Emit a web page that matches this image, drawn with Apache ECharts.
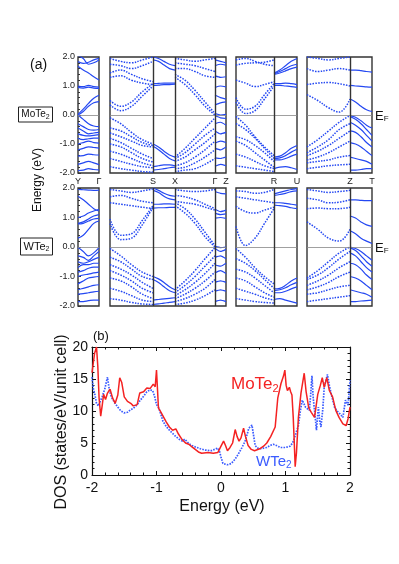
<!DOCTYPE html>
<html>
<head>
<meta charset="utf-8">
<script src="https://cdn.jsdelivr.net/npm/echarts@6/dist/echarts.min.js"></script>
<style>
    html, body { margin: 0; padding: 0; background: #fff; }
    #chart { width: 399px; height: 564px; }
</style>
</head>
<body>
<div id="chart"></div>
<script>
    // k-path: segment lengths (arbitrary k units), which panel, solid or dotted
    const segLen = [21, 43, 22, 40, 11, 38, 23, 43, 22];
    const segPanel = [0, 1, 1, 1, 1, 2, 2, 3, 3];
    const segSolid = [true, false, true, false, true, false, true, false, true];
    const panelLabels = [['Y', 'Γ'], ['', 'S', 'X', 'Γ', 'Z'], ['', 'R', 'U'], ['', 'Z', 'T']];

    // MoTe2 bands, energies (eV) at equally spaced k-points of each segment
    const moYG = [
        [1.68, 1.55, 1.45, 1.32, 1.21], [1.84, 1.78, 1.82, 1.9, 1.95], [2.05, 1.95, 1.75, 1.8, 1.9],
        [1.0, 0.98, 1.02, 0.98, 0.96], [0.95, 0.93, 0.96, 0.93, 0.92],
        [0.02, 0.2, 0.4, 0.58, 0.68], [0.0, 0.12, 0.3, 0.42, 0.46],
        [0.0, -0.15, -0.3, -0.38, -0.4], [-0.3, -0.4, -0.5, -0.52, -0.5], [-0.45, -0.55, -0.65, -0.62, -0.6],
        [-0.65, -0.7, -0.72, -0.7, -0.68], [-0.8, -0.85, -0.82, -0.8, -0.8], [-1.0, -0.95, -0.9, -0.95, -0.97],
        [-1.2, -1.15, -1.1, -1.12, -1.14], [-1.42, -1.4, -1.35, -1.37, -1.38], [-1.7, -1.65, -1.6, -1.65, -1.71],
        [-1.92, -1.9, -1.85, -1.88, -1.89]
    ];
    const moGS = [
        [0.35, 0.15, 0.3, 0.65, 1.0], [0.5, 0.3, 0.45, 0.8, 1.08], [1.3, 1.35, 1.2, 1.1, 1.05],
        [1.45, 1.55, 1.4, 1.25, 1.15], [1.75, 1.7, 1.6, 1.7, 1.85], [1.95, 1.85, 1.8, 1.9, 2.0],
        [-0.1, -0.3, -0.6, -0.85, -1.0], [-0.45, -0.55, -0.75, -0.95, -1.05], [-0.62, -0.75, -0.9, -1.05, -1.1],
        [-0.8, -0.95, -1.15, -1.35, -1.5], [-1.0, -1.1, -1.3, -1.5, -1.62], [-1.25, -1.35, -1.5, -1.65, -1.75],
        [-1.5, -1.6, -1.7, -1.78, -1.82], [-1.78, -1.85, -1.9, -1.95, -1.97]
    ];
    const moSX = [
        [2.0, 1.95, 1.85, 1.75, 1.7], [1.9, 1.85, 1.72, 1.6, 1.55], [1.08, 1.09, 1.1, 1.1, 1.1],
        [1.02, 1.03, 1.05, 1.05, 1.06], [-1.0, -1.1, -1.25, -1.38, -1.45], [-1.08, -1.2, -1.35, -1.5, -1.58],
        [-1.78, -1.75, -1.72, -1.72, -1.75], [-1.9, -1.88, -1.85, -1.82, -1.8]
    ];
    const moXG = [
        [1.95, 1.9, 1.85, 1.9, 1.95], [1.8, 1.75, 1.7, 1.6, 1.5], [1.6, 1.6, 1.5, 1.35, 1.3],
        [1.4, 1.2, 0.85, 0.45, 0.05], [1.3, 1.05, 0.7, 0.3, 0.0],
        [-1.45, -1.15, -0.8, -0.45, -0.1], [-1.5, -1.3, -1.0, -0.7, -0.45], [-1.6, -1.45, -1.2, -0.95, -0.65],
        [-1.75, -1.65, -1.45, -1.2, -0.9], [-1.85, -1.8, -1.65, -1.45, -1.2], [-1.95, -1.9, -1.85, -1.7, -1.5]
    ];
    const moGZ = [
        [1.9, 1.85, 1.8], [1.7, 1.75, 1.72], [1.35, 1.3, 1.32], [0.95, 1.0, 0.97], [0.68, 0.6, 0.55],
        [0.35, 0.42, 0.45], [0.05, 0.0, 0.02], [-0.02, -0.1, -0.12], [-0.3, -0.25, -0.35], [-0.55, -0.65, -0.6],
        [-0.97, -0.9, -0.95], [-1.15, -1.2, -1.1], [-1.48, -1.5, -1.45], [-1.77, -1.7, -1.75]
    ];
    const moZR = [
        [1.9, 1.95, 1.85, 1.75, 1.7], [1.72, 1.78, 1.8, 1.82, 1.9], [1.2, 1.1, 0.98, 1.05, 1.15],
        [0.45, 0.05, 0.15, 0.55, 1.0], [0.6, 0.2, 0.3, 0.7, 1.08],
        [-0.05, -0.35, -0.75, -1.1, -1.4], [-0.3, -0.5, -0.8, -1.15, -1.5], [-0.75, -0.85, -1.05, -1.3, -1.6],
        [-0.9, -1.05, -1.3, -1.55, -1.8], [-1.35, -1.45, -1.6, -1.75, -1.85], [-1.75, -1.8, -1.85, -1.9, -1.95]
    ];
    const moRU = [
        [1.45, 1.55, 1.7, 1.85, 1.95], [1.42, 1.5, 1.6, 1.7, 1.75], [1.4, 1.45, 1.52, 1.6, 1.65],
        [1.08, 1.08, 1.1, 1.08, 1.05], [1.02, 1.02, 1.0, 0.98, 0.95],
        [-1.45, -1.42, -1.3, -1.15, -1.05], [-1.5, -1.48, -1.4, -1.28, -1.18], [-1.55, -1.55, -1.5, -1.42, -1.35],
        [-1.85, -1.8, -1.78, -1.82, -1.88]
    ];
    const moUZ = [
        [2.0, 1.95, 1.9, 1.95, 2.0], [1.6, 1.5, 1.55, 1.6, 1.55], [1.05, 1.1, 1.12, 1.08, 1.0],
        [0.7, 0.5, 0.25, 0.1, 0.55],
        [-1.1, -0.85, -0.55, -0.25, -0.02], [-1.3, -1.1, -0.85, -0.5, -0.3], [-1.4, -1.25, -1.05, -0.8, -0.55],
        [-1.55, -1.45, -1.3, -1.1, -0.9], [-1.65, -1.6, -1.55, -1.45, -1.4], [-1.85, -1.8, -1.75, -1.72, -1.7]
    ];
    const moZT = [
        [1.55, 1.55, 1.53, 1.5, 1.48], [1.02, 1.0, 0.99, 0.97, 0.96], [0.55, 0.45, 0.3, 0.18, 0.12],
        [-0.02, -0.08, -0.2, -0.35, -0.45], [-0.05, -0.15, -0.3, -0.5, -0.7], [-0.25, -0.35, -0.5, -0.7, -0.9],
        [-0.55, -0.6, -0.75, -0.95, -1.1], [-0.95, -1.0, -1.1, -1.25, -1.4], [-1.45, -1.5, -1.55, -1.6, -1.7],
        [-1.9, -1.9, -1.88, -1.85, -1.85]
    ];

    // WTe2 bands
    const wYG = [
        [1.95, 1.94, 1.93, 1.92, 1.93], [1.72, 1.6, 1.45, 1.3, 1.22], [1.0, 1.05, 1.15, 1.22, 1.28],
        [0.8, 0.85, 0.95, 1.05, 1.1], [0.78, 0.8, 0.88, 0.95, 0.97], [0.3, 0.4, 0.6, 0.8, 0.88],
        [-0.02, -0.15, -0.3, -0.2, -0.02], [-0.3, -0.35, -0.45, -0.3, -0.15], [-0.5, -0.55, -0.5, -0.42, -0.35],
        [-0.7, -0.6, -0.6, -0.55, -0.55], [-0.85, -0.8, -0.72, -0.68, -0.68], [-1.0, -0.95, -0.92, -0.88, -0.85],
        [-1.25, -1.15, -1.05, -1.02, -1.0], [-1.45, -1.4, -1.35, -1.3, -1.28], [-1.6, -1.58, -1.55, -1.52, -1.5],
        [-1.85, -1.85, -1.82, -1.8, -1.8]
    ];
    const wGS = [
        [1.95, 1.9, 1.85, 1.9, 1.97], [1.7, 1.75, 1.65, 1.55, 1.5], [1.5, 1.45, 1.4, 1.35, 1.3],
        [0.8, 0.25, 0.3, 0.75, 1.35], [0.95, 0.4, 0.45, 0.9, 1.4],
        [-0.05, -0.3, -0.6, -0.85, -1.0], [-0.35, -0.5, -0.75, -1.0, -1.1], [-0.6, -0.75, -0.95, -1.2, -1.4],
        [-0.8, -0.95, -1.15, -1.4, -1.55], [-1.05, -1.15, -1.35, -1.6, -1.75], [-1.4, -1.5, -1.65, -1.8, -1.85],
        [-1.75, -1.8, -1.88, -1.93, -1.95]
    ];
    const wSX = [
        [2.0, 1.92, 1.82, 1.75, 1.72], [1.92, 1.85, 1.72, 1.63, 1.6], [1.45, 1.45, 1.46, 1.46, 1.45],
        [1.32, 1.33, 1.33, 1.34, 1.34], [-1.0, -1.08, -1.2, -1.35, -1.45], [-1.1, -1.2, -1.35, -1.48, -1.55],
        [-1.8, -1.78, -1.76, -1.74, -1.72], [-1.95, -1.93, -1.9, -1.88, -1.85]
    ];
    const wXG = [
        [1.95, 1.9, 1.88, 1.9, 1.95], [1.75, 1.7, 1.6, 1.45, 1.3], [1.55, 1.5, 1.45, 1.35, 1.25],
        [1.5, 1.3, 0.95, 0.5, 0.05], [1.4, 1.15, 0.8, 0.35, 0.0],
        [-1.45, -1.15, -0.8, -0.4, -0.02], [-1.55, -1.3, -1.0, -0.65, -0.3], [-1.65, -1.45, -1.2, -0.9, -0.55],
        [-1.75, -1.6, -1.4, -1.15, -0.85], [-1.85, -1.75, -1.6, -1.4, -1.1], [-1.95, -1.9, -1.8, -1.65, -1.45]
    ];
    const wGZ = [
        [1.88, 1.82, 1.8], [1.28, 1.2, 1.25], [1.15, 1.1, 1.12], [0.98, 1.0, 0.97], [0.02, -0.02, 0.0],
        [-0.05, -0.15, -0.08], [-0.35, -0.3, -0.4], [-0.6, -0.65, -0.55], [-0.88, -0.8, -0.9],
        [-1.2, -1.15, -1.2], [-1.5, -1.45, -1.5], [-1.85, -1.8, -1.85]
    ];
    const wZR = [
        [1.9, 1.88, 1.82, 1.85, 1.95], [1.7, 1.65, 1.6, 1.55, 1.5], [1.38, 1.2, 1.15, 1.25, 1.35],
        [0.7, 0.05, 0.3, 0.8, 1.3],
        [-0.05, -0.35, -0.7, -1.0, -1.25], [-0.4, -0.55, -0.8, -1.1, -1.4], [-0.75, -0.85, -1.05, -1.3, -1.55],
        [-1.05, -1.15, -1.35, -1.55, -1.7], [-1.4, -1.5, -1.6, -1.72, -1.8], [-1.75, -1.8, -1.85, -1.88, -1.9]
    ];
    const wRU = [
        [1.8, 1.85, 1.9, 1.95, 1.98], [1.75, 1.78, 1.82, 1.88, 1.9], [1.5, 1.5, 1.48, 1.45, 1.42],
        [1.42, 1.4, 1.38, 1.33, 1.3], [-1.42, -1.4, -1.3, -1.15, -1.05], [-1.48, -1.45, -1.38, -1.28, -1.2],
        [-1.55, -1.55, -1.5, -1.42, -1.35], [-1.78, -1.75, -1.8, -1.85, -1.9]
    ];
    const wUZ = [
        [1.95, 1.9, 1.85, 1.88, 1.92], [1.65, 1.6, 1.5, 1.52, 1.6], [1.3, 1.32, 1.3, 1.3, 1.35],
        [0.85, 0.6, 0.3, 0.2, 0.6],
        [-1.05, -0.8, -0.5, -0.2, 0.0], [-1.1, -0.95, -0.7, -0.4, -0.15], [-1.3, -1.15, -0.95, -0.7, -0.5],
        [-1.45, -1.35, -1.2, -1.0, -0.85], [-1.6, -1.55, -1.45, -1.35, -1.3], [-1.85, -1.8, -1.75, -1.7, -1.65]
    ];
    const wZT = [
        [1.6, 1.6, 1.58, 1.57, 1.57], [1.05, 0.98, 0.85, 0.75, 0.7], [0.55, 0.45, 0.3, 0.2, 0.12],
        [0.0, -0.05, -0.15, -0.3, -0.45], [-0.03, -0.12, -0.3, -0.5, -0.65], [-0.2, -0.3, -0.5, -0.7, -0.85],
        [-0.55, -0.6, -0.75, -0.95, -1.1], [-1.0, -1.05, -1.15, -1.3, -1.45], [-1.45, -1.5, -1.55, -1.6, -1.7],
        [-1.85, -1.85, -1.83, -1.82, -1.8]
    ];

    // DOS (states/eV/unit cell)
    const moE = [-2.0, -1.98, -1.96, -1.93, -1.91, -1.89, -1.865, -1.84, -1.82, -1.79, -1.76, -1.72, -1.68, -1.64, -1.6,
        -1.57, -1.54, -1.5, -1.45, -1.4, -1.36, -1.3, -1.26, -1.2, -1.15, -1.1, -1.05, -1.02, -1.0, -0.97, -0.93,
        -0.9, -0.85, -0.8, -0.75, -0.7, -0.66, -0.6, -0.55, -0.5, -0.45, -0.4, -0.35, -0.3, -0.2, -0.12, -0.05,
        0.0, 0.04, 0.07, 0.1, 0.14, 0.18, 0.22, 0.25, 0.28, 0.31, 0.35, 0.38, 0.42, 0.47, 0.52, 0.6, 0.66, 0.71,
        0.77, 0.84, 0.88, 0.93, 0.97, 0.99, 1.01, 1.03, 1.06, 1.08, 1.1, 1.12, 1.14, 1.15, 1.17, 1.2, 1.24, 1.29,
        1.32, 1.36, 1.4, 1.45, 1.5, 1.54, 1.57, 1.6, 1.64, 1.68, 1.73, 1.78, 1.83, 1.89, 1.94, 1.97, 2.0];
    const moDos = [16.0, 17.5, 19.0, 20.0, 17.0, 12.0, 9.2, 11.0, 12.6, 11.8, 12.8, 13.4, 12.0, 11.2, 12.5,
        15.2, 14.5, 12.2, 11.5, 11.2, 10.8, 11.0, 12.8, 13.0, 13.6, 13.5, 14.2, 13.8, 16.4, 10.5, 9.8,
        9.5, 8.3, 7.5, 7.0, 7.2, 6.4, 5.5, 5.0, 4.8, 4.4, 4.0, 3.6, 3.4, 3.5, 3.4, 3.5,
        4.5, 5.3, 4.6, 3.8, 4.3, 5.0, 7.1, 6.0, 5.3, 5.8, 7.3, 6.0, 4.6, 4.0, 3.8, 4.1, 4.5, 5.0,
        6.0, 7.5, 12.0, 14.3, 15.5, 16.4, 14.0, 13.2, 13.7, 13.0, 12.5, 9.0, 4.0, 1.3, 3.5, 9.0, 12.8, 15.9,
        13.0, 10.5, 9.8, 9.0, 12.6, 14.0, 15.2, 13.7, 15.2, 13.2, 12.2, 10.1, 9.0, 8.0, 7.7, 8.8, 10.6];
    const wE = [-2.0, -1.98, -1.96, -1.93, -1.9, -1.87, -1.84, -1.8, -1.76, -1.73, -1.7, -1.65, -1.6, -1.55, -1.5,
        -1.45, -1.4, -1.36, -1.3, -1.25, -1.2, -1.15, -1.1, -1.06, -1.03, -1.0, -0.97, -0.93, -0.9, -0.85, -0.8,
        -0.76, -0.7, -0.65, -0.6, -0.56, -0.5, -0.45, -0.4, -0.32, -0.25, -0.15, -0.1, -0.05, -0.02, 0.0, 0.03,
        0.06, 0.1, 0.16, 0.22, 0.27, 0.32, 0.37, 0.41, 0.43, 0.48, 0.5, 0.53, 0.57, 0.61, 0.66, 0.71, 0.76, 0.81,
        0.86, 0.92, 1.0, 1.07, 1.11, 1.14, 1.17, 1.2, 1.23, 1.26, 1.31, 1.37, 1.39, 1.41, 1.43, 1.45, 1.48, 1.51,
        1.53, 1.55, 1.58, 1.6, 1.65, 1.68, 1.71, 1.76, 1.8, 1.84, 1.89, 1.93, 1.97, 2.0];
    const wDos = [15.3, 13.5, 12.8, 11.2, 10.8, 10.7, 12.3, 13.5, 15.3, 13.2, 12.2, 11.3, 10.6, 10.0, 9.7,
        9.8, 10.2, 10.4, 11.0, 11.7, 12.3, 13.0, 13.3, 13.2, 12.3, 11.0, 10.6, 9.4, 8.4, 7.6, 7.0,
        6.6, 6.0, 5.6, 5.3, 5.6, 4.9, 4.6, 4.4, 4.1, 3.9, 3.8, 4.0, 4.2, 3.6, 2.8, 1.8,
        1.5, 1.6, 1.8, 2.5, 3.3, 4.2, 5.2, 6.5, 7.3, 7.8, 6.5, 4.6, 4.2, 4.1, 4.2, 4.3, 4.6, 4.8,
        4.6, 4.3, 4.3, 4.5, 5.0, 5.8, 6.8, 7.7, 10.0, 11.7, 10.6, 10.1, 12.5, 15.5, 12.0, 10.1, 7.0, 10.6,
        8.5, 7.5, 10.5, 13.7, 15.7, 14.0, 12.6, 10.6, 10.0, 9.6, 9.0, 11.7, 10.9, 14.8];

    const BAND = '#2448f2';
    const RED = '#f42222';
    const BLUE = '#3b5cff';
    const FONT = 'Liberation Sans';
    const panelBox = [{left: 78, width: 21}, {left: 110, width: 116}, {left: 236, width: 61}, {left: 307, width: 65}];
    const rows = [{top: 57, height: 116}, {top: 188, height: 118}];
    const materials = [
        [moYG, moGS, moSX, moXG, moGZ, moZR, moRU, moUZ, moZT],
        [wYG, wGS, wSX, wXG, wGZ, wZR, wRU, wUZ, wZT]
    ];

    // boundaries of each panel from the segment lengths
    const panelEdges = [[0], [0], [0], [0]];
    segLen.forEach((len, i) => {
        const e = panelEdges[segPanel[i]];
        e.push(e[e.length - 1] + len);
    });

    let grids = [], xAxes = [], yAxes = [], series = [];
    rows.forEach((row, r) => {
        panelBox.forEach((box, p) => {
            const gi = grids.length;
            const edges = panelEdges[p];
            grids.push({left: box.left, width: box.width, top: row.top, height: row.height,
                show: true, borderColor: '#333', borderWidth: 1.4, backgroundColor: 'transparent'});
            const labelVals = [], labelText = {};
            edges.forEach((v, k) => {
                if (panelLabels[p][k]) { labelVals.push(v); labelText[v] = panelLabels[p][k]; }
            });
            xAxes.push({type: 'value', gridIndex: gi, min: 0, max: edges[edges.length - 1],
                axisLine: {show: false, onZero: false}, axisTick: {show: false}, splitLine: {show: false},
                axisLabel: {show: r === 0, customValues: labelVals, formatter: v => labelText[v] || '',
                    fontSize: 9, margin: 4, color: '#222', fontFamily: FONT}});
            yAxes.push({type: 'value', gridIndex: gi, min: -2, max: 2, interval: 1,
                axisLine: {show: false, onZero: false}, splitLine: {show: false},
                axisTick: {show: p === 0, inside: true, length: 3, lineStyle: {color: '#333'}},
                minorTick: {show: p === 0, splitNumber: 5, length: 2, lineStyle: {color: '#333'}},
                axisLabel: {show: p === 0, formatter: v => v.toFixed(1), fontSize: 9, margin: 3,
                    color: '#222', fontFamily: FONT}});

            let first = true;
            segLen.forEach((len, s) => {
                if (segPanel[s] !== p) return;
                const start = edges[segPanel.slice(0, s).filter(q => q === p).length];
                materials[r][s].forEach(band => {
                    const ser = {
                        type: 'line', xAxisIndex: gi, yAxisIndex: gi, smooth: band.length > 3 ? 0.4 : 0.2,
                        showSymbol: false, silent: true, animation: false,
                        data: band.map((e, i) => [start + len * i / (band.length - 1), e]),
                        lineStyle: segSolid[s] ? {color: BAND, width: 1.2}
                            : {color: BAND, width: 1.5, type: [1.5, 1.3]}
                    };
                    if (first) {
                        ser.markLine = {
                            silent: true, symbol: ['none', 'none'], label: {show: false}, animation: false,
                            data: [{yAxis: 0, lineStyle: {color: '#888', width: 0.8, type: 'solid'}}]
                                .concat(edges.slice(1, -1).map(v => ({xAxis: v,
                                    lineStyle: {color: '#333', width: 1.4, type: 'solid'}})))
                        };
                        first = false;
                    }
                    series.push(ser);
                });
            });
        });
    });

    // DOS panel, framed with mirrored ticks on top and right
    const dg = grids.length;
    grids.push({left: 92, right: 49, top: 347, height: 128});
    const tickStyle = {color: '#111', width: 1};
    const frameAxis = {
        axisLine: {onZero: false, lineStyle: {color: '#111', width: 1.2}},
        axisTick: {inside: true, length: 4, lineStyle: tickStyle},
        minorTick: {show: true, splitNumber: 5, length: 2.5, lineStyle: tickStyle},
        splitLine: {show: false}
    };
    xAxes.push(Object.assign({type: 'value', gridIndex: dg, min: -2, max: 2, interval: 1,
        axisLabel: {fontSize: 14, margin: 6, color: '#111', fontFamily: FONT}}, frameAxis));
    xAxes.push(Object.assign({type: 'value', gridIndex: dg, position: 'top', min: -2, max: 2, interval: 1,
        axisLabel: {show: false}}, frameAxis));
    yAxes.push(Object.assign({type: 'value', gridIndex: dg, position: 'left', min: 0, max: 20, interval: 5,
        axisLabel: {fontSize: 14, margin: 4, color: '#111', fontFamily: FONT}}, frameAxis));
    yAxes.push(Object.assign({type: 'value', gridIndex: dg, position: 'right', min: 0, max: 20, interval: 5,
        axisLabel: {show: false}}, frameAxis));

    series.push({type: 'line', name: 'WTe2', xAxisIndex: dg, yAxisIndex: dg, showSymbol: false, silent: true,
        animation: false, data: wE.map((e, i) => [e, wDos[i]]),
        lineStyle: {color: BLUE, width: 1.7, type: [1.6, 1.2]}});
    series.push({type: 'line', name: 'MoTe2', xAxisIndex: dg, yAxisIndex: dg, showSymbol: false, silent: true,
        animation: false, data: moE.map((e, i) => [e, moDos[i]]),
        lineStyle: {color: RED, width: 1.5}});

    const subRich = (size, color) => ({
        b: {fontSize: size, fontFamily: FONT, fill: color},
        s: {fontSize: Math.round(size * 0.65), fontFamily: FONT, fill: color, padding: [Math.round(size * 0.45), 0, 0, 0]}
    });

    const chart = echarts.init(document.getElementById('chart'));
    chart.setOption({
        animation: false,
        grid: grids,
        xAxis: xAxes,
        yAxis: yAxes,
        series: series,
        graphic: [
            {type: 'text', left: 30, top: 58, style: {text: '(a)', font: '14px ' + FONT, fill: '#111'}},
            {type: 'text', x: 38, y: 180, rotation: Math.PI / 2,
                style: {text: 'Energy (eV)', font: '12px ' + FONT, fill: '#111', align: 'center', verticalAlign: 'middle'}},
            {type: 'rect', shape: {x: 18.5, y: 107, width: 34, height: 15}, style: {fill: '#fff', stroke: '#222', lineWidth: 1}},
            {type: 'text', x: 35.5, y: 114.5, style: {text: '{b|MoTe}{s|2}', rich: subRich(10, '#111'),
                align: 'center', verticalAlign: 'middle'}},
            {type: 'rect', shape: {x: 20.5, y: 238, width: 32, height: 17}, style: {fill: '#fff', stroke: '#222', lineWidth: 1}},
            {type: 'text', x: 36.5, y: 246.5, style: {text: '{b|WTe}{s|2}', rich: subRich(11, '#111'),
                align: 'center', verticalAlign: 'middle'}},
            {type: 'text', x: 375, y: 109, style: {text: '{b|E}{s|F}', rich: subRich(13, '#111')}},
            {type: 'text', x: 375, y: 241, style: {text: '{b|E}{s|F}', rich: subRich(13, '#111')}},
            {type: 'text', left: 93, top: 330, style: {text: '(b)', font: '13px ' + FONT, fill: '#111'}},
            {type: 'text', x: 62, y: 422, rotation: Math.PI / 2,
                style: {text: 'DOS (states/eV/unit cell)', font: '16px ' + FONT, fill: '#111', align: 'center', verticalAlign: 'middle'}},
            {type: 'text', x: 222, y: 507, style: {text: 'Energy (eV)', font: '16px ' + FONT, fill: '#111',
                align: 'center', verticalAlign: 'middle'}},
            {type: 'text', x: 231, y: 375, style: {text: '{b|MoTe}{s|2}', rich: subRich(17, RED)}},
            {type: 'text', x: 256, y: 453, style: {text: '{b|WTe}{s|2}', rich: subRich(15, BLUE)}}
        ]
    });
</script>
</body>
</html>
